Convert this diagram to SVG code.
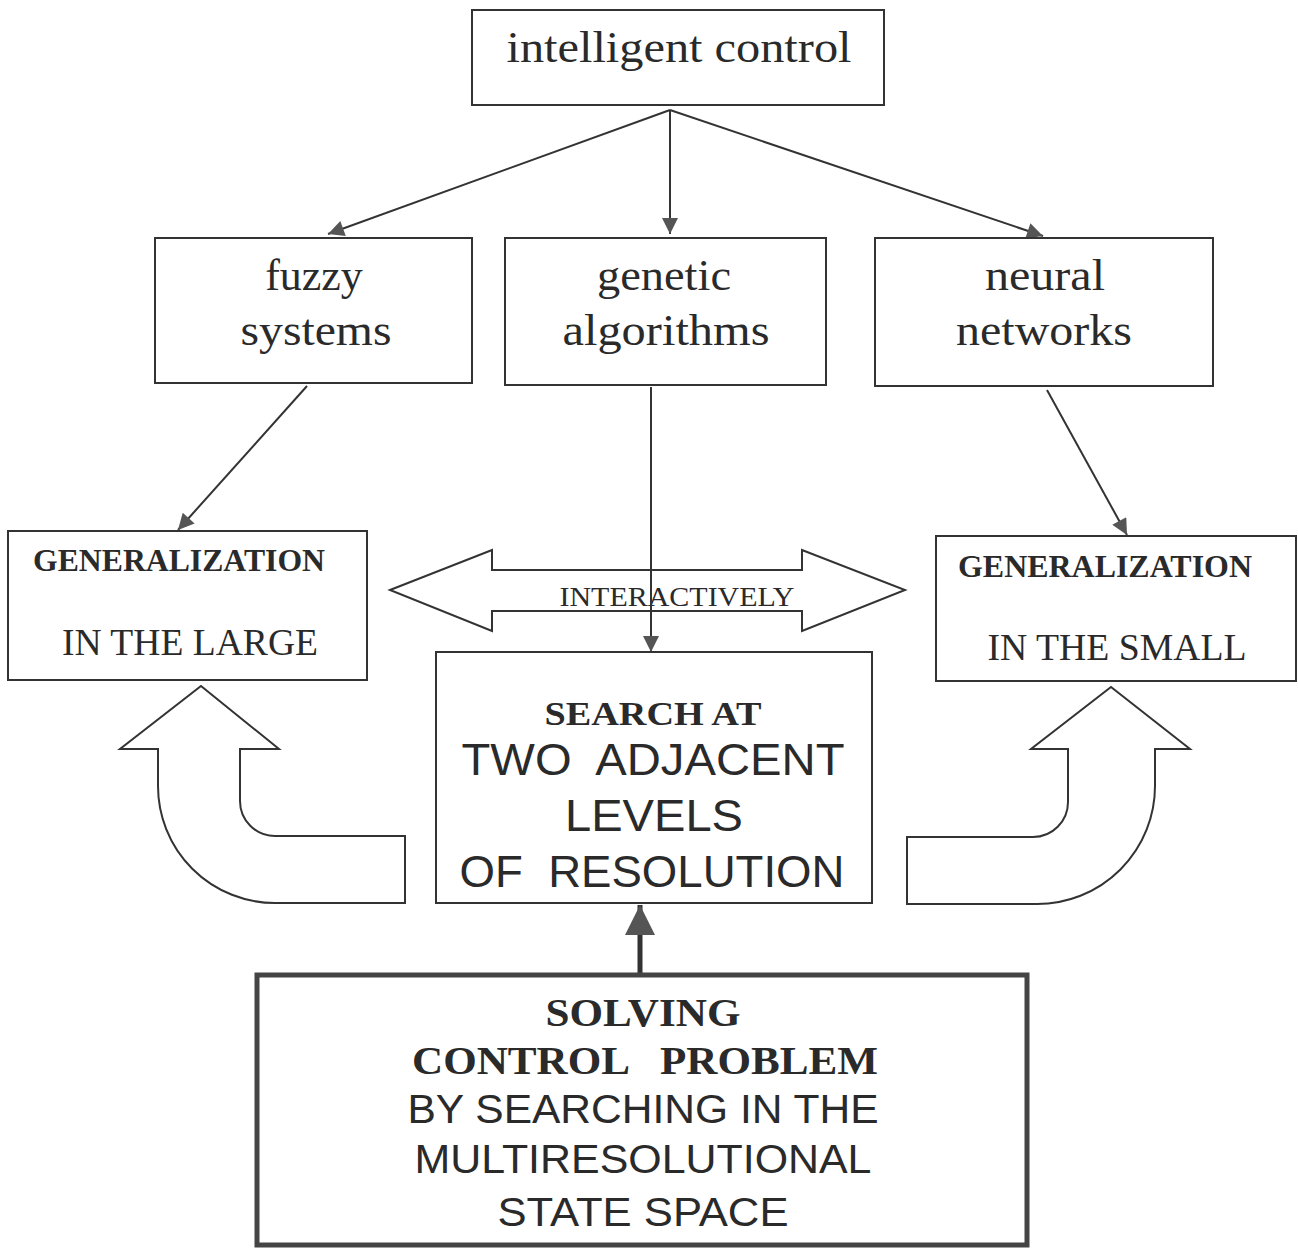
<svg xmlns="http://www.w3.org/2000/svg" width="1298" height="1249" viewBox="0 0 1298 1249">
<style>
.box{fill:#fff;stroke:#333;stroke-width:2}
.serif{font-family:"Liberation Serif","Times New Roman",serif;fill:#2a2a2a}
.sans{font-family:"Liberation Sans",Arial,sans-serif;fill:#2a2a2a}
.b{font-weight:bold}
.con{stroke:#333;stroke-width:2;fill:none}
.big{fill:#fff;stroke:#333;stroke-width:2;stroke-linejoin:miter}
</style>
<defs>
<marker id="ah" viewBox="0 0 10 10" refX="10" refY="5" markerWidth="22" markerHeight="16" markerUnits="userSpaceOnUse" orient="auto"><path d="M0,0 L10,5 L0,10 z" fill="#555"/></marker>
<marker id="ah2" viewBox="0 0 10 10" refX="10" refY="5" markerWidth="40" markerHeight="30" markerUnits="userSpaceOnUse" orient="auto"><path d="M0,0 L10,5 L0,10 z" fill="#555"/></marker>
</defs>
<rect width="1298" height="1249" fill="#fff"/>

<g id="connectors">
<line class="con" x1="670" y1="110" x2="328" y2="234" marker-end="url(#ah)"/>
<line class="con" x1="670" y1="110" x2="670" y2="234" marker-end="url(#ah)"/>
<line class="con" x1="670" y1="110" x2="1043" y2="236" marker-end="url(#ah)"/>
<line class="con" x1="307" y1="386" x2="178" y2="530" marker-end="url(#ah)"/>
<line class="con" x1="1047" y1="390" x2="1127" y2="535" marker-end="url(#ah)"/>
<line x1="640" y1="973" x2="640" y2="905" stroke="#333" stroke-width="5" marker-end="url(#ah2)"/>
</g>

<g id="intelligent-control">
<rect class="box" x="472" y="10" width="412" height="95"/>
<text class="serif" x="679" y="62" font-size="44" text-anchor="middle" textLength="345" lengthAdjust="spacingAndGlyphs">intelligent control</text>
</g>

<g id="fuzzy-systems">
<rect class="box" x="155" y="238" width="317" height="145"/>
<text class="serif" x="314" y="290" font-size="44" text-anchor="middle">fuzzy</text>
<text class="serif" x="316" y="345" font-size="44" text-anchor="middle" textLength="151" lengthAdjust="spacingAndGlyphs">systems</text>
</g>

<g id="genetic-algorithms">
<rect class="box" x="505" y="238" width="321" height="147"/>
<text class="serif" x="664" y="290" font-size="44" text-anchor="middle" textLength="134" lengthAdjust="spacingAndGlyphs">genetic</text>
<text class="serif" x="666" y="345" font-size="44" text-anchor="middle" textLength="207" lengthAdjust="spacingAndGlyphs">algorithms</text>
</g>

<g id="neural-networks">
<rect class="box" x="875" y="238" width="338" height="148"/>
<text class="serif" x="1045" y="290" font-size="44" text-anchor="middle" textLength="120" lengthAdjust="spacingAndGlyphs">neural</text>
<text class="serif" x="1044" y="345" font-size="44" text-anchor="middle" textLength="176" lengthAdjust="spacingAndGlyphs">networks</text>
</g>

<g id="interactively">
<path class="big" d="M390,590 L492,550 L492,570 L802,570 L802,550 L905,590 L802,631 L802,611 L492,611 L492,631 Z"/>
<text class="serif" x="677" y="606" font-size="27" text-anchor="middle" textLength="235" lengthAdjust="spacingAndGlyphs">INTERACTIVELY</text>
</g>

<g id="connector-genetic">
<line class="con" x1="651" y1="387" x2="651" y2="652" marker-end="url(#ah)"/>
</g>

<g id="gen-large">
<rect class="box" x="8" y="531" width="359" height="149"/>
<text class="serif b" x="179" y="571" font-size="32" text-anchor="middle" textLength="292" lengthAdjust="spacingAndGlyphs">GENERALIZATION</text>
<text class="serif" x="190" y="655" font-size="38" text-anchor="middle" textLength="256" lengthAdjust="spacingAndGlyphs">IN THE LARGE</text>
</g>

<g id="gen-small">
<rect class="box" x="936" y="536" width="360" height="145"/>
<text class="serif b" x="1105" y="577" font-size="32" text-anchor="middle" textLength="294" lengthAdjust="spacingAndGlyphs">GENERALIZATION</text>
<text class="serif" x="1117" y="660" font-size="38" text-anchor="middle" textLength="259" lengthAdjust="spacingAndGlyphs">IN THE SMALL</text>
</g>

<g id="search">
<rect class="box" x="436" y="652" width="436" height="251"/>
<text class="serif b" x="653" y="725" font-size="34" text-anchor="middle" textLength="217" lengthAdjust="spacingAndGlyphs">SEARCH AT</text>
<text class="sans" x="653" y="775" font-size="45" text-anchor="middle" textLength="383" lengthAdjust="spacingAndGlyphs" xml:space="preserve">TWO  ADJACENT</text>
<text class="sans" x="654" y="831" font-size="45" text-anchor="middle" textLength="178" lengthAdjust="spacingAndGlyphs">LEVELS</text>
<text class="sans" x="652" y="887" font-size="45" text-anchor="middle" textLength="385" lengthAdjust="spacingAndGlyphs" xml:space="preserve">OF  RESOLUTION</text>
</g>

<g id="curved-arrow-left">
<path class="big" d="M201,686 L279,749 L240,749 L240,801 A35,35 0 0 0 275,836 L405,836 L405,903 L275,903 A117,117 0 0 1 158,786 L158,749 L120,749 Z"/>
</g>

<g id="curved-arrow-right">
<path class="big" d="M1111,687 L1190,749 L1155,749 L1155,786 A118,118 0 0 1 1037,904 L907,904 L907,837 L1033,837 A35,35 0 0 0 1068,802 L1068,749 L1031,749 Z"/>
</g>

<g id="solving">
<rect x="257" y="975" width="770" height="270" fill="#fff" stroke="#444" stroke-width="5"/>
<text class="serif b" x="643" y="1026" font-size="40" text-anchor="middle" textLength="195" lengthAdjust="spacingAndGlyphs">SOLVING</text>
<text class="serif b" x="645" y="1074" font-size="40" text-anchor="middle" textLength="466" lengthAdjust="spacingAndGlyphs" xml:space="preserve">CONTROL   PROBLEM</text>
<text class="sans" x="643" y="1123" font-size="41" text-anchor="middle" textLength="471" lengthAdjust="spacingAndGlyphs">BY SEARCHING IN THE</text>
<text class="sans" x="643" y="1173" font-size="41" text-anchor="middle" textLength="457" lengthAdjust="spacingAndGlyphs">MULTIRESOLUTIONAL</text>
<text class="sans" x="643" y="1226" font-size="41" text-anchor="middle" textLength="291" lengthAdjust="spacingAndGlyphs">STATE SPACE</text>
</g>
</svg>
